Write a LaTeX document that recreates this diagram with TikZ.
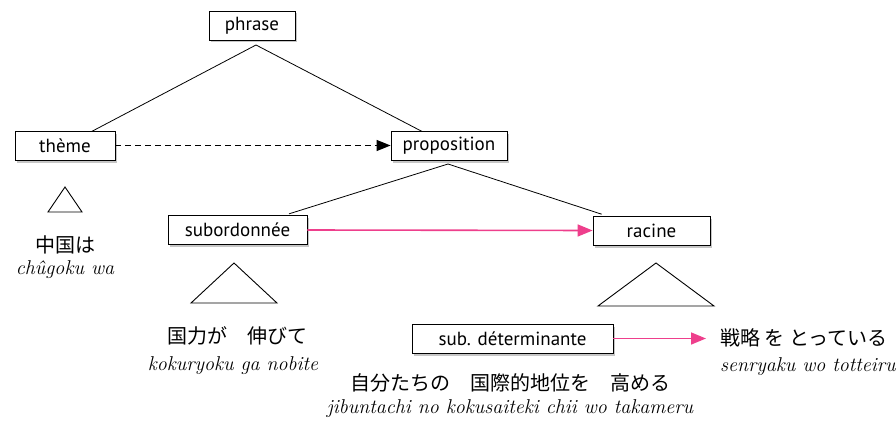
\documentclass[tikz,border=0pt]{standalone}
\usepackage{fontspec}
\setmainfont{Latin Modern Roman}
\newfontfamily\boxfont{PT Sans}
\newfontfamily\jpfont{Noto Sans CJK JP}
\usetikzlibrary{shadows,calc,arrows.meta}
\definecolor{pinkarrow}{HTML}{EE3F8C}
\tikzset{
  cat/.style={draw=black, fill=white, line width=0.8pt, minimum height=29pt, inner sep=2pt,
    font=\boxfont\fontsize{19}{21}\selectfont,
    drop shadow={shadow xshift=1.5pt, shadow yshift=-2.5pt, opacity=0.45}},
  branch/.style={draw=black, line width=0.8pt},
  tri/.style={draw=black, line width=0.9pt},
  jp/.style={font=\jpfont\fontsize{20}{22}\selectfont, inner sep=0pt},
  tr/.style={font=\itshape\fontsize{20}{22}\selectfont, inner sep=0pt},
  dasharrow/.style={draw=black, line width=1.2pt, dash pattern=on 6pt off 4pt, -{Triangle[length=14pt,width=11pt]}},
  pinkarr/.style={draw=pinkarrow, line width=1.6pt, -{Triangle[length=15pt,width=12pt]}}
}
\begin{document}
\begin{tikzpicture}[x=1pt,y=-1pt]
\useasboundingbox (0,0) rectangle (896,425);
% category boxes
\node[cat, minimum width=86pt] (phrase) at (252,25.5) {phrase};
\node[cat, minimum width=100pt] (theme) at (65,145.5) {thème};
\node[cat, minimum width=116pt] (prop) at (449,145.5) {proposition};
\node[cat, minimum width=139pt] (sub) at (237.5,230) {subordonnée};
\node[cat, minimum width=117pt] (racine) at (651.5,230.5) {racine};
\node[cat, minimum width=201pt] (subdet) at (512.5,338.5) {sub. déterminante};
% branches
\coordinate (phb) at (256,45);
\coordinate (prb) at (448,164);
\draw[branch] (phb) -- ($(phb)!0.86!(theme.center)$);
\draw[branch] (phb) -- ($(phb)!0.86!(prop.center)$);
\draw[branch] (prb) -- ($(prb)!0.755!(sub.center)$);
\draw[branch] (prb) -- ($(prb)!0.755!(racine.center)$);
% arrows
\draw[dasharrow] (theme.east) -- (prop.west);
\draw[pinkarr] (sub.east) -- (racine.west);
\coordinate (arrend) at (706,338.5);
\draw[pinkarr] (subdet.east) -- (arrend);
% triangles
\draw[tri] (65,187) -- (82,212) -- (48,212) -- cycle;
\draw[tri] (234,263) -- (277,303) -- (191,303) -- cycle;
\draw[tri] (656,263) -- (714,306) -- (598,306) -- cycle;
% texts
\node[jp] (t1) at (65,245) {中国は};
\node[tr] (r1) at (65,270) {chûgoku wa};
\node[jp] (t2) at (237,336) {国力が　伸びて};
\node[tr] (r2) at (233,366) {kokuryoku ga nobite};
\node[jp] (t3) at (510,383) {自分たちの　国際的地位を　高める};
\node[tr] (r3) at (510,409) {jibuntachi no kokusaiteki chii wo takameru};
\node[jp, anchor=west] (t4) at (720,338) {戦略 を とっている};
\node[tr, anchor=west] (r4) at (720,367) {senryaku wo totteiru};
\end{tikzpicture}
\end{document}
